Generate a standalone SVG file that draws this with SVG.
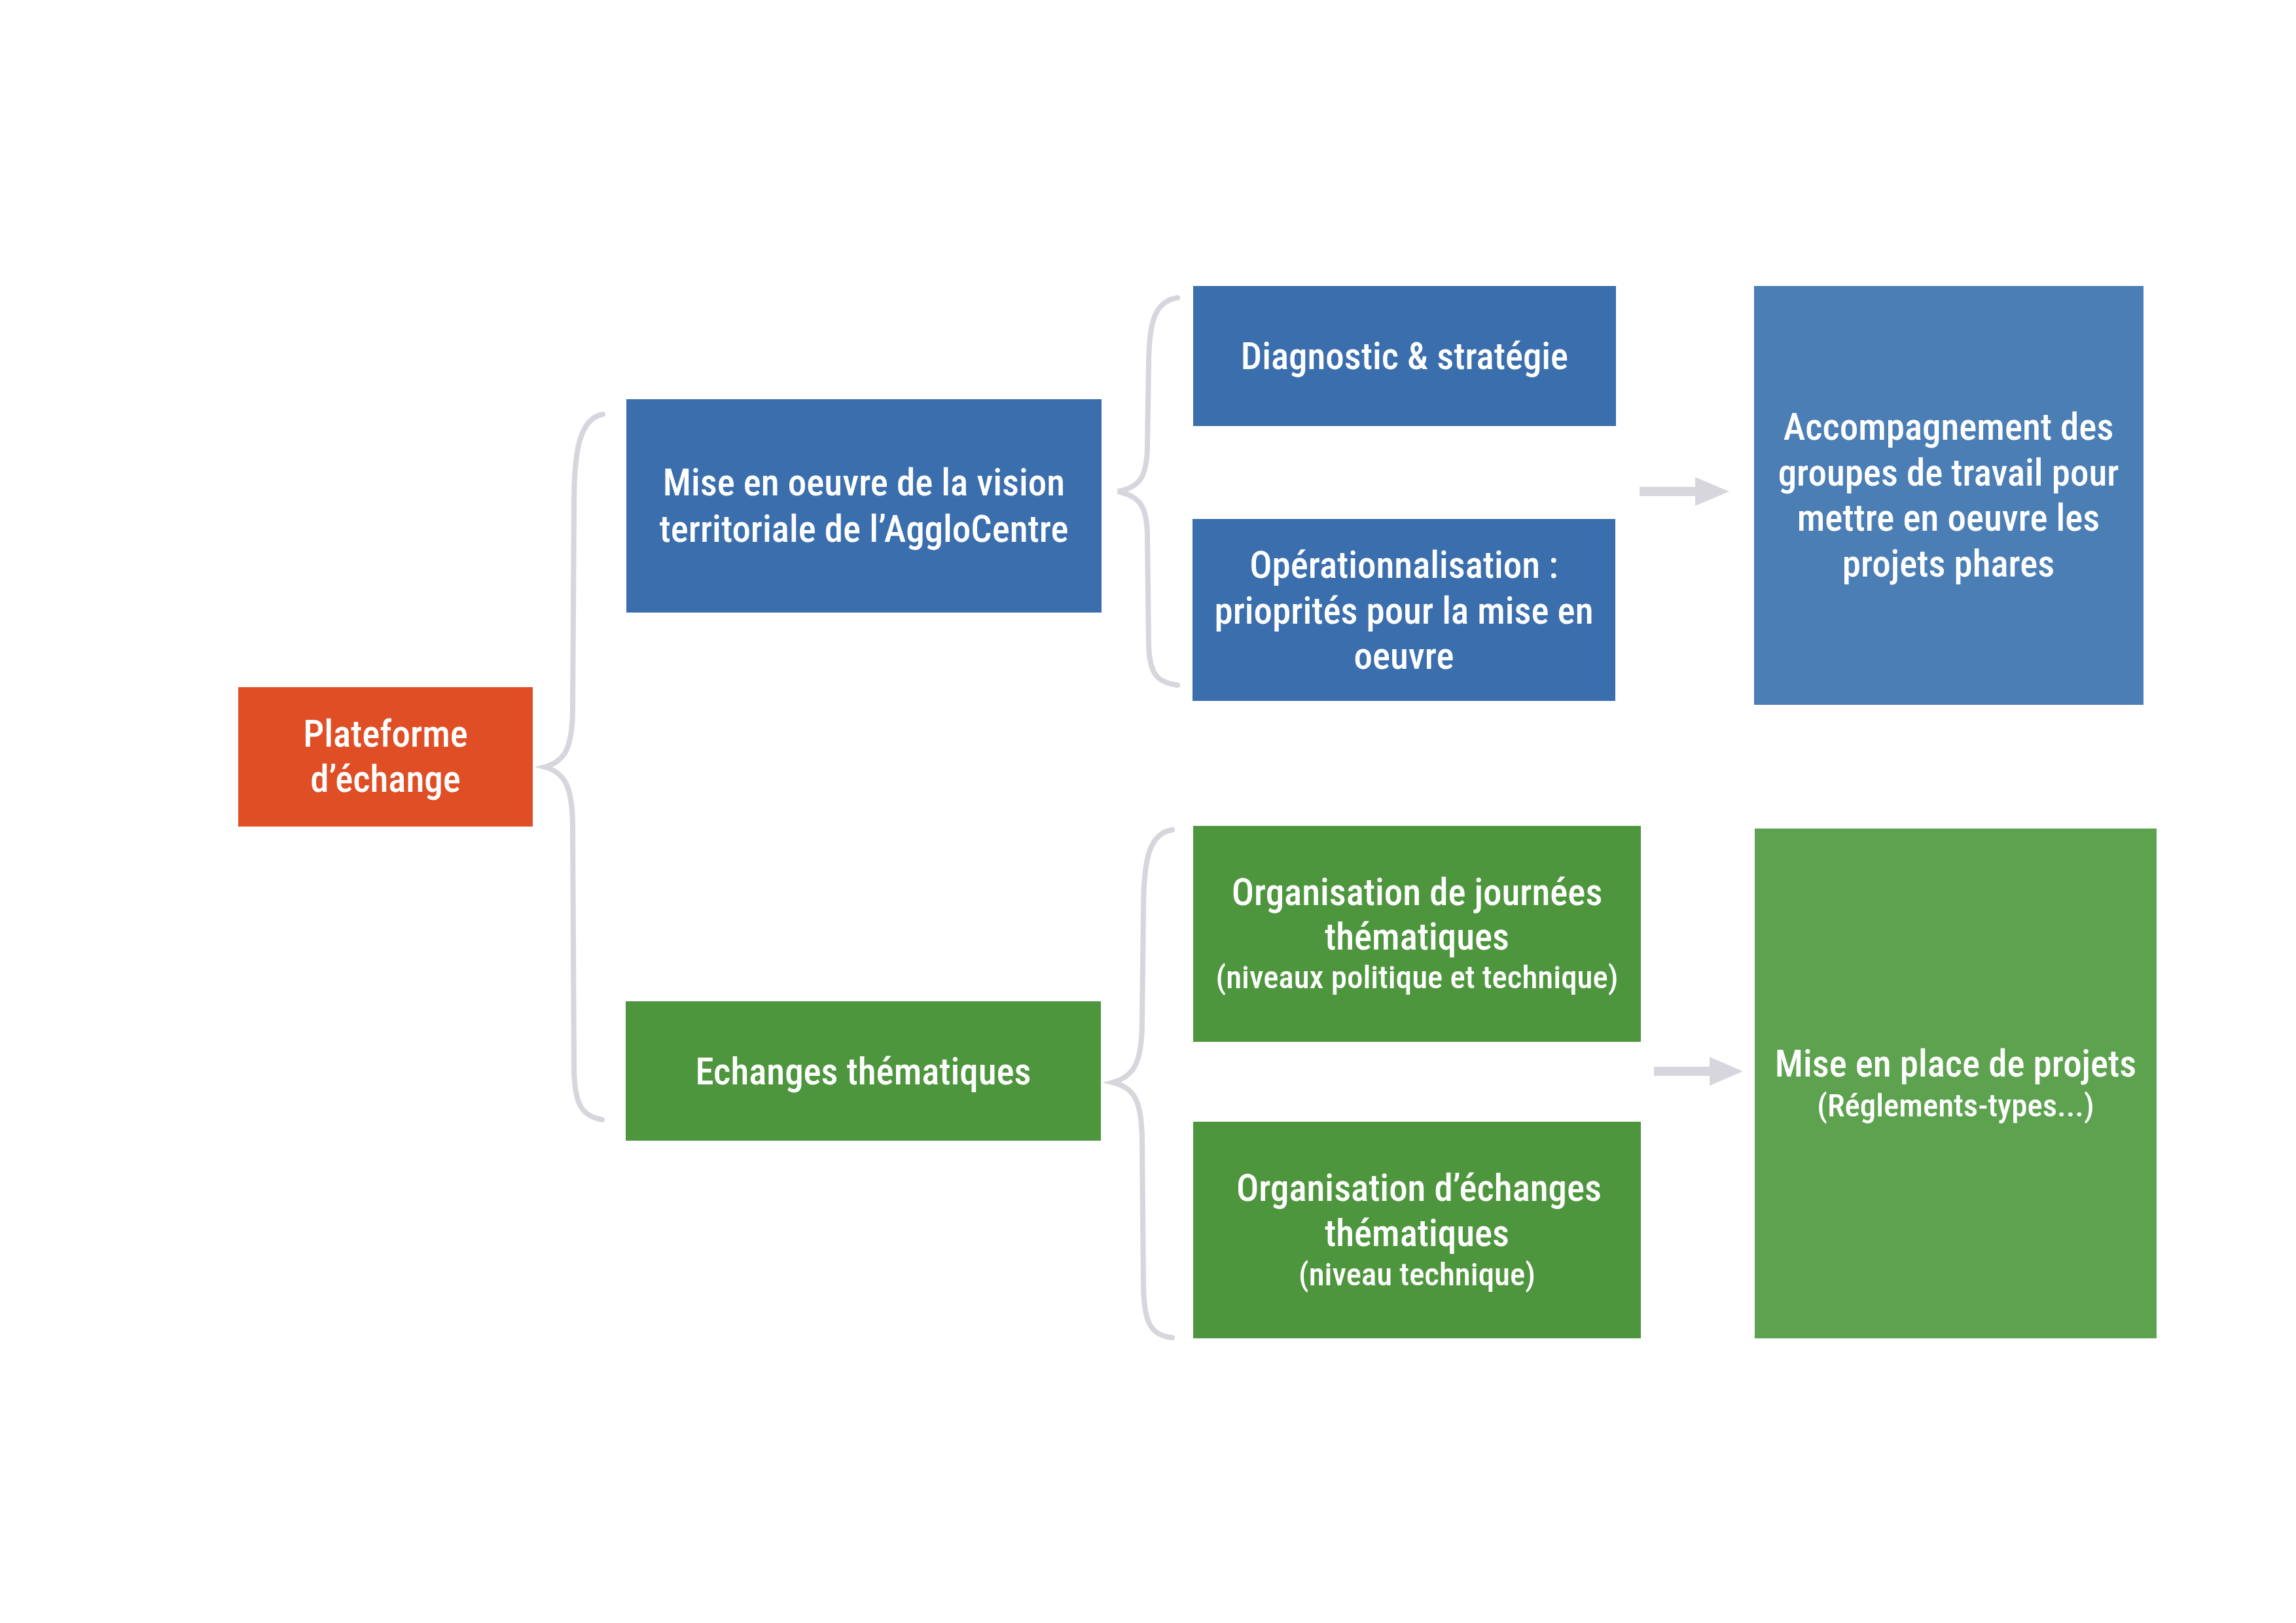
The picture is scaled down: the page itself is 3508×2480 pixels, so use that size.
<svg xmlns="http://www.w3.org/2000/svg" width="3508" height="2480" viewBox="0 0 3508 2480">
<style>
.t{font-family:"Liberation Sans Narrow","Roboto Condensed","DejaVu Sans Condensed","Liberation Sans",sans-serif;font-stretch:condensed;font-weight:500;fill:#fff;text-anchor:middle;font-size:57px}
.s{font-size:49px}
.br{fill:none;stroke:#D6D6DC;stroke-width:8;stroke-linecap:round}
.ar{fill:#D6D6DC}
</style>
<rect width="3508" height="2480" fill="#fff"/>
<g id="connectors">
<path class="br" d="M921,633 C885,640 877,690 877,770 L875,1080 C875,1145 862,1164 832,1172 C862,1180 875,1200 875,1265 L877,1630 C877,1690 890,1705 920,1711"/>
<path class="br" d="M1799,455 C1765,460 1755,490 1755,560 L1753,680 C1753,730 1740,745 1708,751 C1740,758 1753,772 1753,820 L1755,980 C1755,1030 1768,1043 1799,1047"/>
<path class="br" d="M1791,1268 C1757,1273 1747,1310 1747,1390 L1745,1560 C1745,1625 1732,1645 1700,1654 C1732,1662 1745,1680 1745,1745 L1747,1960 C1747,2025 1760,2040 1791,2044"/>
<polygon class="ar" points="2505,744 2590,744 2590,729 2642,751 2590,773 2590,758 2505,758"/>
<polygon class="ar" points="2527,1630 2612,1630 2612,1615 2663,1637 2612,1659 2612,1644 2527,1644"/>
</g>
<g id="plateforme">
<rect x="364" y="1050" width="450" height="213" fill="#E04E26"/>
<text class="t" x="589" y="1141">Plateforme</text>
<text class="t" x="589" y="1210">d’échange</text>
</g>
<g id="mise-en-oeuvre">
<rect x="957" y="610" width="726" height="326" fill="#3A6EAD"/>
<text class="t" x="1320" y="757">Mise en oeuvre de la vision</text>
<text class="t" x="1320" y="828">territoriale de l’AggloCentre</text>
</g>
<g id="diagnostic">
<rect x="1823" y="437" width="646" height="214" fill="#3A6EAD"/>
<text class="t" x="2146" y="564">Diagnostic &amp; stratégie</text>
</g>
<g id="operationnalisation">
<rect x="1822" y="793" width="646" height="278" fill="#3A6EAD"/>
<text class="t" x="2145" y="883">Opérationnalisation :</text>
<text class="t" x="2145" y="953">prioprités pour la mise en</text>
<text class="t" x="2145" y="1022">oeuvre</text>
</g>
<g id="accompagnement">
<rect x="2680" y="437" width="595" height="640" fill="#4B7EB5"/>
<text class="t" x="2977" y="672">Accompagnement des</text>
<text class="t" x="2977" y="742">groupes de travail pour</text>
<text class="t" x="2977" y="811">mettre en oeuvre les</text>
<text class="t" x="2977" y="881">projets phares</text>
</g>
<g id="echanges">
<rect x="956" y="1530" width="726" height="213" fill="#4D963D"/>
<text class="t" x="1319" y="1657">Echanges thématiques</text>
</g>
<g id="journees">
<rect x="1823" y="1262" width="684" height="330" fill="#4D963D"/>
<text class="t" x="2165" y="1383">Organisation de journées</text>
<text class="t" x="2165" y="1451">thématiques</text>
<text class="t s" x="2165" y="1510">(niveaux politique et technique)</text>
</g>
<g id="echanges-thematiques">
<rect x="1823" y="1714" width="684" height="331" fill="#4D963D"/>
<text class="t" x="2168" y="1835">Organisation d’échanges</text>
<text class="t" x="2165" y="1904">thématiques</text>
<text class="t s" x="2165" y="1964">(niveau technique)</text>
</g>
<g id="projets">
<rect x="2681" y="1266" width="614" height="779" fill="#5DA24F"/>
<text class="t" x="2988" y="1645">Mise en place de projets</text>
<text class="t s" x="2988" y="1706">(Réglements-types...)</text>
</g>
</svg>
